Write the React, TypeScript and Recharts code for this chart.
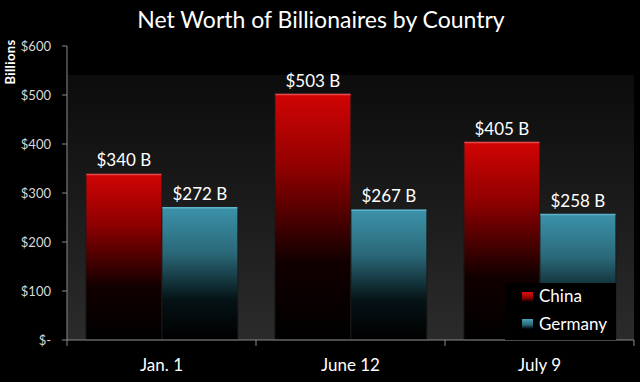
import React from 'react';
import { BarChart, Bar, XAxis, YAxis, LabelList, Legend, ReferenceArea } from 'recharts';

const categories = ['Jan. 1', 'June 12', 'July 9'];
const chinaValues = [340, 503, 405];
const germanyValues = [272, 267, 258];
const yTicks = [0, 100, 200, 300, 400, 500, 600];
const seriesNames = ['China', 'Germany'];
const plotBackgroundTop = 541;

const data = categories.map((c, i) => ({ category: c, china: chinaValues[i], germany: germanyValues[i] }));

const FONT = 'Lato, "Noto Sans", sans-serif';
const AXIS_COLOR = '#8a8a8a';

const makeShape = (topColor: string) => (props: any) => {
  const { x, y, width, height, fill } = props;
  if (!height || height <= 0) return <g />;
  return (
    <g>
      <rect x={x} y={y} width={width} height={height} fill={fill} stroke="#1a1a1a" strokeWidth={1} />
      <line x1={x + 0.5} x2={x + width - 0.5} y1={y + 1} y2={y + 1} stroke={topColor} strokeWidth={1.5} />
    </g>
  );
};

const XTick = (props: any) => {
  const { x, y, payload, index, visibleTicksCount } = props;
  const off = payload && typeof payload.offset === 'number' && payload.offset > 0 ? payload.offset : 94.5;
  const last = index === (visibleTicksCount ?? categories.length) - 1;
  return (
    <g>
      <line x1={x - off} x2={x - off} y1={y} y2={y + 6} stroke={AXIS_COLOR} strokeWidth={1} />
      {last && <line x1={x + off} x2={x + off} y1={y} y2={y + 6} stroke={AXIS_COLOR} strokeWidth={1} />}
      <text x={x} y={y + 31} textAnchor="middle" fill="#ffffff" fontSize={17} fontFamily={FONT}>
        {payload.value}
      </text>
    </g>
  );
};

const LegendContent = (props: any) => {
  const payload = props.payload || [];
  return (
    <svg width={111} height={57}>
      <defs>
        <linearGradient id="swChina" x1="0" y1="0" x2="0" y2="1">
          <stop offset="0%" stopColor="#e01010" />
          <stop offset="60%" stopColor="#900000" />
          <stop offset="100%" stopColor="#000000" />
        </linearGradient>
        <linearGradient id="swGermany" x1="0" y1="0" x2="0" y2="1">
          <stop offset="0%" stopColor="#4aa0b8" />
          <stop offset="60%" stopColor="#2a6474" />
          <stop offset="100%" stopColor="#000000" />
        </linearGradient>
      </defs>
      {seriesNames.map((name, i) => {
        const entry = payload.find((p: any) => p.value === name);
        return (
          <g key={name}>
            <rect x={17} y={9 + i * 27} width={11} height={10} fill={i === 0 ? 'url(#swChina)' : 'url(#swGermany)'} />
            <text x={34} y={19 + i * 28} fill="#ffffff" fontSize={17} fontFamily={FONT}>
              {entry ? entry.value : name}
            </text>
          </g>
        );
      })}
    </svg>
  );
};

export default function App() {
  return (
    <div style={{ position: 'absolute', left: 0, top: 0, width: 640, height: 382, background: '#000' }}>
      <BarChart
        width={640}
        height={382}
        data={data}
        margin={{ top: 46, right: 6, bottom: 0, left: 0 }}
        barCategoryGap="10%"
        barGap={0}
      >
        <defs>
          <linearGradient id="plotBg" x1="0" y1="0" x2="0" y2="1">
            <stop offset="0%" stopColor="#0c0c0c" />
            <stop offset="100%" stopColor="#2b2b2b" />
          </linearGradient>
          <linearGradient id="gradChina" x1="0" y1="0" x2="0" y2="1">
            <stop offset="0%" stopColor="#d20404" />
            <stop offset="30%" stopColor="#900000" />
            <stop offset="68%" stopColor="#120000" />
            <stop offset="100%" stopColor="#000000" />
          </linearGradient>
          <linearGradient id="gradGermany" x1="0" y1="0" x2="0" y2="1">
            <stop offset="0%" stopColor="#3c93ab" />
            <stop offset="35%" stopColor="#2a6878" />
            <stop offset="70%" stopColor="#051215" />
            <stop offset="100%" stopColor="#000000" />
          </linearGradient>
        </defs>
        <ReferenceArea y1={0} y2={plotBackgroundTop} fill="url(#plotBg)" fillOpacity={1} stroke="none" />
        <XAxis
          dataKey="category"
          height={42}
          tickLine={false}
          tickSize={0}
          tickMargin={0}
          axisLine={{ stroke: AXIS_COLOR, strokeWidth: 1 }}
          tick={<XTick />}
          interval={0}
        />
        <YAxis
          width={67}
          domain={[0, 600]}
          ticks={yTicks}
          interval={0}
          tickSize={5}
          tickMargin={11}
          axisLine={{ stroke: AXIS_COLOR, strokeWidth: 1 }}
          tickLine={{ stroke: AXIS_COLOR, strokeWidth: 1 }}
          tick={{ fill: '#d8d8d8', fontSize: 13, fontFamily: FONT }}
          tickFormatter={(v: number) => (v === 0 ? '$-  ' : `$${v}`)}
        />
        <Bar dataKey="china" name={seriesNames[0]} fill="url(#gradChina)" isAnimationActive={false} shape={makeShape('#e84848')}>
          <LabelList dataKey="china" position="top" offset={7} fill="#ffffff" fontSize={17} fontFamily={FONT} formatter={(v: any) => `$${v} B`} />
        </Bar>
        <Bar dataKey="germany" name={seriesNames[1]} fill="url(#gradGermany)" isAnimationActive={false} shape={makeShape('#5cb2c8')}>
          <LabelList dataKey="germany" position="top" offset={7} fill="#ffffff" fontSize={17} fontFamily={FONT} formatter={(v: any) => `$${v} B`} />
        </Bar>
        <Legend
          layout="horizontal"
          verticalAlign="middle"
          align="center"
          content={<LegendContent />}
          wrapperStyle={{ position: 'absolute', left: 505, top: 283, width: 111, height: 57, background: '#000', bottom: 'auto', right: 'auto' }}
        />
      </BarChart>
      <svg width={640} height={382} style={{ position: 'absolute', left: 0, top: 0, pointerEvents: 'none' }}>
        <text x={321} y={28} textAnchor="middle" fill="#ffffff" fontSize={23} fontFamily={FONT}>
          Net Worth of Billionaires by Country
        </text>
        <text x={15} y={62} textAnchor="middle" fill="#ffffff" fontSize={13} fontWeight="bold" fontFamily={FONT} transform="rotate(-90 15 62)" letterSpacing={0.4}>
          Billions
        </text>
      </svg>
    </div>
  );
}
